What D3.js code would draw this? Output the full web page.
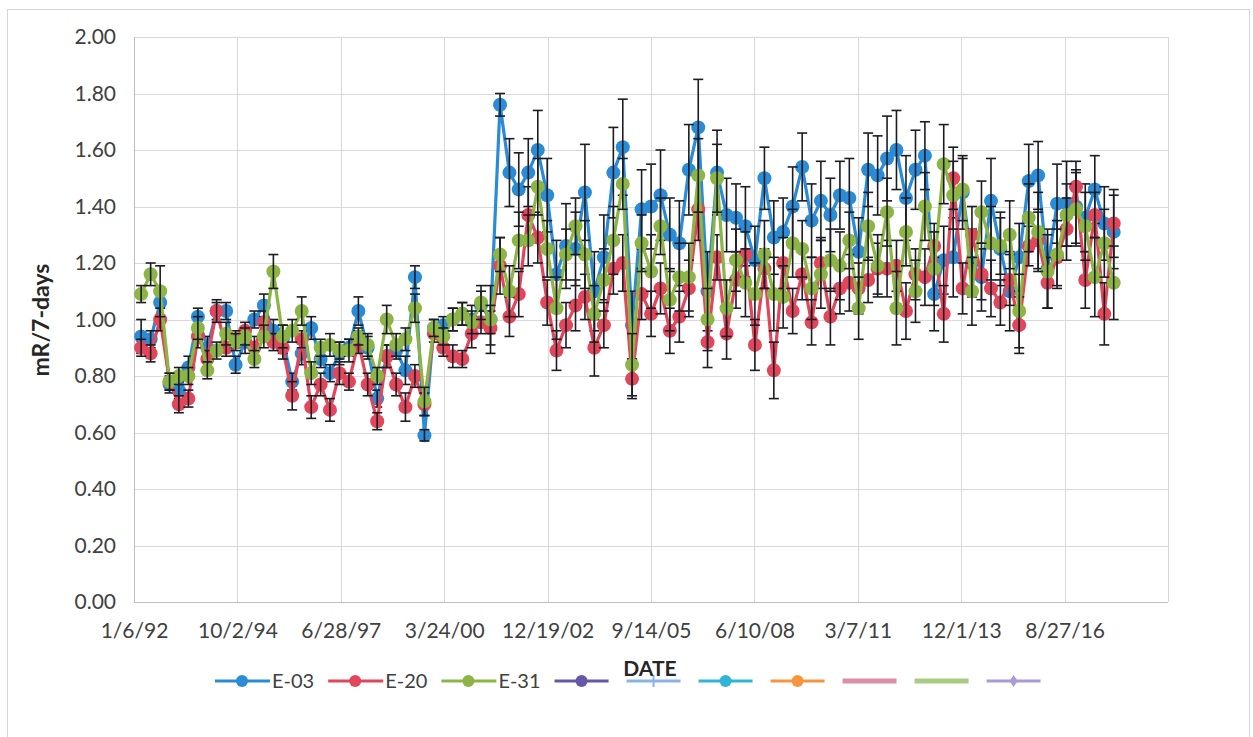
<!DOCTYPE html>
<html>
<head>
<meta charset="utf-8">
<script src="https://cdn.jsdelivr.net/npm/d3@7"></script>
<style>
  body { margin: 0; background: #fff; }
  svg { display: block; font-family: Lato, "Open Sans", sans-serif; }
</style>
</head>
<body>
<svg id="chart" width="1253" height="737"></svg>
<script>
// sampling dates (quarterly)
const dates = [
  "1992-03-15","1992-06-15","1992-09-15","1992-12-15","1993-03-15","1993-06-15","1993-09-15","1993-12-15",
  "1994-03-15","1994-06-15","1994-09-15","1994-12-15","1995-03-15","1995-06-15","1995-09-15","1995-12-15",
  "1996-03-15","1996-06-15","1996-09-15","1996-12-15","1997-03-15","1997-06-15","1997-09-15","1997-12-15",
  "1998-03-15","1998-06-15","1998-09-15","1998-12-15","1999-03-15","1999-06-15","1999-09-15","1999-12-15",
  "2000-03-15","2000-06-15","2000-09-15","2000-12-15","2001-03-15","2001-06-15","2001-09-15","2001-12-15",
  "2002-03-15","2002-06-15","2002-09-15","2002-12-15","2003-03-15","2003-06-15","2003-09-15","2003-12-15",
  "2004-03-15","2004-06-15","2004-09-15","2004-12-15","2005-03-15","2005-06-15","2005-09-15","2005-12-15",
  "2006-03-15","2006-06-15","2006-09-15","2006-12-15","2007-03-15","2007-06-15","2007-09-15","2007-12-15",
  "2008-03-15","2008-06-15","2008-09-15","2008-12-15","2009-03-15","2009-06-15","2009-09-15","2009-12-15",
  "2010-03-15","2010-06-15","2010-09-15","2010-12-15","2011-03-15","2011-06-15","2011-09-15","2011-12-15",
  "2012-03-15","2012-06-15","2012-09-15","2012-12-15","2013-03-15","2013-06-15","2013-09-15","2013-12-15",
  "2014-03-15","2014-06-15","2014-09-15","2014-12-15","2015-03-15","2015-06-15","2015-09-15","2015-12-15",
  "2016-03-15","2016-06-15","2016-09-15","2016-12-15","2017-03-15","2017-06-15","2017-09-15","2017-12-15"
];

// mR/7-days per station
const e03 = [
  0.94,0.93,1.06,0.77,0.75,0.83,1.01,0.90,1.03,1.03,
  0.84,0.92,1.00,1.05,0.96,0.93,0.78,0.88,0.97,0.86,
  0.81,0.88,0.90,1.03,0.90,0.72,0.87,0.89,0.82,1.15,
  0.59,0.97,0.98,1.00,1.02,1.00,1.05,1.00,1.76,1.52,
  1.46,1.52,1.60,1.44,1.16,1.26,1.25,1.45,1.10,1.22,
  1.52,1.61,0.98,1.39,1.40,1.44,1.30,1.27,1.53,1.68,
  1.10,1.52,1.37,1.36,1.33,1.21,1.50,1.29,1.31,1.40,
  1.54,1.35,1.42,1.37,1.44,1.43,1.24,1.53,1.51,1.57,
  1.60,1.43,1.53,1.58,1.09,1.21,1.22,1.45,1.20,1.15,
  1.42,1.25,1.10,1.22,1.49,1.51,1.18,1.41,1.41,1.40,
  1.36,1.46,1.34,1.31
];
const e20 = [
  0.90,0.88,1.00,0.78,0.70,0.72,0.94,0.86,1.03,0.90,
  0.93,0.96,0.90,0.99,0.92,0.90,0.73,0.93,0.69,0.77,
  0.68,0.81,0.78,0.92,0.77,0.64,0.87,0.77,0.69,0.80,
  0.70,0.95,0.90,0.87,0.86,0.95,0.99,0.97,1.19,1.01,
  1.09,1.37,1.29,1.06,0.89,0.98,1.05,1.08,0.90,0.98,
  1.18,1.20,0.79,1.09,1.02,1.11,0.96,1.01,1.11,1.39,
  0.92,1.22,0.95,1.14,1.23,0.91,1.18,0.82,1.20,1.03,
  1.16,0.99,1.20,1.01,1.11,1.13,1.11,1.14,1.18,1.18,
  1.19,1.03,1.16,1.15,1.26,1.02,1.50,1.11,1.30,1.16,
  1.11,1.06,1.14,0.98,1.26,1.28,1.13,1.22,1.32,1.47,
  1.14,1.37,1.02,1.34
];
const e31 = [
  1.09,1.16,1.10,0.78,0.80,0.80,0.97,0.82,0.89,0.95,
  0.92,0.94,0.86,0.94,1.17,0.94,0.96,1.03,0.81,0.90,
  0.91,0.89,0.89,0.94,0.91,0.80,1.00,0.91,0.93,1.04,
  0.71,0.97,0.94,1.00,1.02,0.99,1.06,1.00,1.23,1.10,
  1.28,1.28,1.47,1.25,1.04,1.23,1.33,1.23,1.02,1.14,
  1.28,1.48,0.84,1.27,1.17,1.33,1.07,1.15,1.15,1.51,
  1.00,1.50,1.04,1.21,1.13,1.09,1.23,1.09,1.08,1.27,
  1.25,1.11,1.16,1.21,1.19,1.28,1.04,1.33,1.19,1.38,
  1.04,1.31,1.10,1.40,1.18,1.55,1.44,1.46,1.10,1.38,
  1.27,1.26,1.30,1.03,1.36,1.31,1.17,1.23,1.37,1.39,
  1.33,1.15,1.27,1.13
];

// error bar half-widths (+/-)
const err03 = [
  0.06,0.03,0.05,0.03,0.03,0.04,0.03,0.04,0.03,0.03,
  0.03,0.04,0.03,0.04,0.04,0.05,0.03,0.04,0.04,0.03,
  0.03,0.04,0.03,0.05,0.04,0.03,0.04,0.03,0.05,0.04,
  0.02,0.03,0.03,0.04,0.04,0.05,0.05,0.12,
  0.04,0.12,0.13,0.12,0.14,0.13,0.12,0.15,0.13,0.17,
  0.14,0.15,0.16,0.17,0.12,0.14,0.15,0.16,0.13,0.15,
  0.16,0.17,0.14,0.15,0.13,0.12,0.14,0.12,0.11,0.13,
  0.12,0.14,0.12,0.13,0.14,0.13,0.12,0.14,0.12,0.13,
  0.14,0.15,0.14,0.15,0.14,0.12,0.13,0.12,0.14,0.13,
  0.12,0.12,0.15,0.13,0.14,0.12,0.13,0.12,0.14,0.14,
  0.15,0.13,0.12,0.12,0.13,0.13
];
const err20 = [
  0.03,0.03,0.04,0.03,0.03,0.03,0.04,0.03,0.04,0.03,
  0.03,0.03,0.04,0.04,0.03,0.04,0.05,0.03,0.04,0.04,
  0.04,0.04,0.03,0.04,0.04,0.03,0.04,0.04,0.05,0.04,
  0.04,0.03,0.03,0.04,0.03,0.05,0.04,0.06,
  0.10,0.07,0.08,0.10,0.09,0.08,0.07,0.08,0.09,0.08,
  0.10,0.08,0.09,0.10,0.07,0.09,0.08,0.09,0.08,0.09,
  0.10,0.11,0.09,0.08,0.09,0.10,0.08,0.09,0.07,0.10,
  0.09,0.08,0.09,0.08,0.09,0.10,0.09,0.10,0.09,0.08,
  0.09,0.10,0.09,0.10,0.09,0.10,0.08,0.10,0.11,0.09,
  0.10,0.09,0.10,0.08,0.09,0.10,0.07,0.10,0.09,0.10,
  0.11,0.09,0.10,0.08,0.11,0.12
];
const err31 = [
  0.03,0.04,0.09,0.03,0.03,0.03,0.04,0.03,0.03,0.04,
  0.03,0.03,0.03,0.04,0.06,0.04,0.04,0.05,0.04,0.03,
  0.04,0.03,0.04,0.03,0.04,0.03,0.05,0.04,0.04,0.05,
  0.05,0.03,0.03,0.04,0.04,0.04,0.06,0.05,
  0.06,0.09,0.10,0.09,0.10,0.10,0.11,0.09,0.10,0.12,
  0.10,0.11,0.12,0.09,0.11,0.10,0.13,0.10,0.11,0.12,
  0.12,0.13,0.11,0.12,0.10,0.11,0.12,0.11,0.12,0.13,
  0.11,0.12,0.10,0.11,0.12,0.11,0.12,0.10,0.11,0.12,
  0.11,0.12,0.13,0.12,0.11,0.12,0.13,0.14,0.12,0.11,
  0.12,0.11,0.13,0.10,0.12,0.13,0.12,0.14,0.13,0.12,
  0.11,0.13,0.12,0.14,0.12,0.13
];

const seriesNames = ["E-03", "E-20", "E-31"];
const seriesColors = ["#2a8bd6", "#e2465a", "#8db545"];

// axis ticks
const yTicks = [0, 0.2, 0.4, 0.6, 0.8, 1.0, 1.2, 1.4, 1.6, 1.8, 2.0];
const xTickDates = ["1992-01-06","1994-10-02","1997-06-28","2000-03-24","2002-12-19",
                    "2005-09-14","2008-06-10","2011-03-07","2013-12-01","2016-08-27"];
const xEndDate = "2019-05-24";

// the legend also lists 7 unnamed, empty series
const extraColors = ["#6757a8", "#8ab4e6", "#2fb5d8", "#f7953f", "#d990a8", "#a9cc82", "#a99ad9"];
const extraMarkers = ["circle", "plus", "circle", "circle", "none", "none", "diamond"];

const parse = d3.utcParse("%Y-%m-%d");
const svg = d3.select("#chart");

svg.append("rect").attr("width", 1253).attr("height", 737).attr("fill", "#fff");
// chart frame
svg.append("rect")
  .attr("x", 7.5).attr("y", 9.5).attr("width", 1242).attr("height", 760)
  .attr("fill", "none").attr("stroke", "#d6d6d6");

const x = d3.scaleUtc()
  .domain([parse(xTickDates[0]), parse(xEndDate)])
  .range([134, 1168]);
const y = d3.scaleLinear().domain([0, 2]).range([602, 37]);

// gridlines
const grid = svg.append("g").attr("stroke", "#d9d9d9").attr("stroke-width", 1);
grid.selectAll("line.h")
  .data(yTicks.slice(1))
  .enter().append("line")
  .attr("x1", x.range()[0]).attr("x2", x.range()[1])
  .attr("y1", d => Math.round(y(d)) + 0.5).attr("y2", d => Math.round(y(d)) + 0.5);
grid.selectAll("line.v")
  .data(xTickDates.slice(1).concat([xEndDate]))
  .enter().append("line")
  .attr("x1", d => Math.round(x(parse(d))) + 0.5).attr("x2", d => Math.round(x(parse(d))) + 0.5)
  .attr("y1", y(2)).attr("y2", y(0));

// axis lines
svg.append("line")
  .attr("x1", 134.5).attr("x2", 134.5).attr("y1", y(2)).attr("y2", y(0))
  .attr("stroke", "#bfbfbf");
svg.append("line")
  .attr("x1", 134).attr("x2", 1168).attr("y1", 602.5).attr("y2", 602.5)
  .attr("stroke", "#bfbfbf");

const yAxis = svg.append("g")
  .attr("transform", "translate(134,0)")
  .call(d3.axisLeft(y).tickValues(yTicks).tickFormat(d3.format(".2f")).tickSize(0).tickPadding(18));
const xAxis = svg.append("g")
  .attr("transform", "translate(0,602)")
  .call(d3.axisBottom(x).tickValues(xTickDates.map(parse))
    .tickFormat(d3.utcFormat("%-m/%-d/%y")).tickSize(0).tickPadding(21));
[yAxis, xAxis].forEach(a => {
  a.select(".domain").remove();
  a.selectAll("text").attr("font-size", 21).attr("fill", "#404040").attr("font-family", "Lato");
});

// axis titles
svg.append("text")
  .attr("transform", "translate(49,320) rotate(-90)")
  .attr("text-anchor", "middle")
  .attr("font-size", 23).attr("font-weight", "bold").attr("fill", "#262626")
  .text("mR/7-days");

// series
const allValues = [e03, e20, e31];
const allErrors = [err03, err20, err31];
const line = d3.line().x(d => x(d.date)).y(d => y(d.v));

allValues.forEach((vals, s) => {
  const pts = vals.map((v, i) => ({ date: parse(dates[i]), v: v, e: allErrors[s][i] }));
  const g = svg.append("g");

  g.append("path")
    .datum(pts)
    .attr("d", line)
    .attr("fill", "none")
    .attr("stroke", seriesColors[s])
    .attr("stroke-width", 3.2)
    .attr("stroke-linejoin", "round");

  g.selectAll("circle")
    .data(pts)
    .enter().append("circle")
    .attr("cx", d => x(d.date))
    .attr("cy", d => y(d.v))
    .attr("r", 7)
    .attr("fill", seriesColors[s]);

  // error bars with caps
  const eb = g.append("g").attr("stroke", "#1c1c24").attr("stroke-width", 1.6);
  pts.forEach(d => {
    const cx = x(d.date);
    const y1 = y(d.v + d.e), y2 = y(d.v - d.e);
    eb.append("line").attr("x1", cx).attr("x2", cx).attr("y1", y1).attr("y2", y2);
    eb.append("line").attr("x1", cx - 5).attr("x2", cx + 5).attr("y1", y1).attr("y2", y1);
    eb.append("line").attr("x1", cx - 5).attr("x2", cx + 5).attr("y1", y2).attr("y2", y2);
  });
});

// legend
const legY = 681;
const leg = svg.append("g");
let lx = 215;
seriesNames.forEach((name, s) => {
  leg.append("line")
    .attr("x1", lx).attr("x2", lx + 55).attr("y1", legY).attr("y2", legY)
    .attr("stroke", seriesColors[s]).attr("stroke-width", 3);
  leg.append("circle")
    .attr("cx", lx + 27).attr("cy", legY).attr("r", 6).attr("fill", seriesColors[s]);
  const t = leg.append("text")
    .attr("x", lx + 57).attr("y", legY + 7)
    .attr("font-size", 20).attr("fill", "#404040")
    .text(name);
  lx += 57 + t.node().getComputedTextLength() + 14;
});
extraColors.forEach((c, k) => {
  const thick = extraMarkers[k] === "none";
  leg.append("line")
    .attr("x1", lx).attr("x2", lx + 54).attr("y1", legY).attr("y2", legY)
    .attr("stroke", c).attr("stroke-width", thick ? 5 : 3);
  const mx = lx + 27;
  if (extraMarkers[k] === "circle") {
    leg.append("circle").attr("cx", mx).attr("cy", legY).attr("r", 6).attr("fill", c);
  } else if (extraMarkers[k] === "plus") {
    leg.append("line").attr("x1", mx).attr("x2", mx).attr("y1", legY - 6).attr("y2", legY + 6)
      .attr("stroke", c).attr("stroke-width", 2);
  } else if (extraMarkers[k] === "diamond") {
    leg.append("path")
      .attr("d", `M${mx},${legY - 6}L${mx + 4},${legY}L${mx},${legY + 6}L${mx - 4},${legY}Z`)
      .attr("fill", c);
  }
  lx += 54 + 18;
});

// x axis title (sits over the legend, as in the original)
svg.append("text")
  .attr("x", 650).attr("y", 676)
  .attr("text-anchor", "middle")
  .attr("font-size", 21).attr("font-weight", "bold").attr("fill", "#262626")
  .text("DATE");
</script>
</body>
</html>
